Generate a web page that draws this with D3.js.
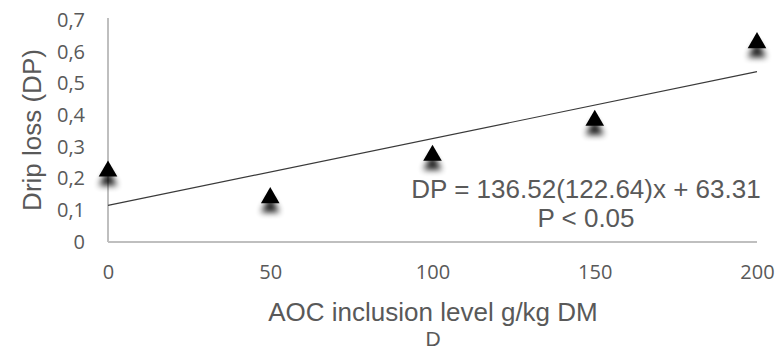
<!DOCTYPE html>
<html>
<head>
<meta charset="utf-8">
<script src="https://cdn.jsdelivr.net/npm/d3@7"></script>
<style>
  html, body { margin: 0; padding: 0; background: #fff; }
  svg { display: block; }
</style>
</head>
<body>
<svg id="chart" width="778" height="351"></svg>
<script>
// Inclusion levels (g/kg DM) and measured drip loss
const levels = [0, 50, 100, 150, 200];
const dripLoss = [0.22, 0.136, 0.27, 0.38, 0.625];
const xTicks = [0, 50, 100, 150, 200];
const yTicks = [0, 0.1, 0.2, 0.3, 0.4, 0.5, 0.6, 0.7];
const equationLines = ["DP = 136.52(122.64)x + 63.31", "P < 0.05"];

const svg = d3.select("#chart");
const plotLeft = 108, plotRight = 757, plotTop = 20, plotBottom = 242;
const textColor = "#595959";
const titleFont = "'Liberation Sans', Arial, sans-serif";

const x = d3.scaleLinear().domain([0, 200]).range([plotLeft, plotRight]);
const y = d3.scaleLinear().domain([0, 0.7]).range([plotBottom, plotTop]);

// soft shadow under each marker
const defs = svg.append("defs");
const f = defs.append("filter").attr("id", "shadow")
  .attr("x", "-60%").attr("y", "-60%").attr("width", "220%").attr("height", "260%");
f.append("feGaussianBlur").attr("in", "SourceAlpha").attr("stdDeviation", 3).attr("result", "b");
f.append("feOffset").attr("in", "b").attr("dx", 0).attr("dy", 9).attr("result", "o");
f.append("feComponentTransfer").attr("in", "o").attr("result", "s")
  .append("feFuncA").attr("type", "linear").attr("slope", 0.9);
const m = f.append("feMerge");
m.append("feMergeNode").attr("in", "s");
m.append("feMergeNode").attr("in", "SourceGraphic");

// axes
const gx = svg.append("g").attr("transform", `translate(0,${plotBottom})`)
  .call(d3.axisBottom(x).tickValues(xTicks).tickSize(0).tickPadding(23));
const gy = svg.append("g").attr("transform", `translate(${plotLeft},0)`)
  .call(d3.axisLeft(y).tickValues(yTicks).tickSize(0).tickPadding(23)
    .tickFormat(d => d3.format(".1~f")(d).replace(".", ",")));
[gx, gy].forEach(g => {
  g.select(".domain").attr("stroke", "#bfbfbf").attr("stroke-width", 2);
  g.selectAll("text").attr("fill", textColor)
    .style("font-family", "'Open Sans', sans-serif").style("font-size", "20px");
});
gy.select(".domain").attr("d", `M0,${y(0.7) - 2}V${plotBottom}`);
gx.select(".domain").attr("d", `M${plotLeft},0H${plotRight}`);

// linear trend line from least squares fit of the data
const mx = d3.mean(levels), my = d3.mean(dripLoss);
const slope = d3.sum(levels, (v, i) => (v - mx) * (dripLoss[i] - my)) / d3.sum(levels, v => (v - mx) ** 2);
const intercept = my - slope * mx;
svg.append("line")
  .attr("x1", x(0)).attr("y1", y(intercept))
  .attr("x2", x(200)).attr("y2", y(intercept + slope * 200))
  .attr("stroke", "#3a3a3a").attr("stroke-width", 1.2);

// triangle markers
const tri = d3.symbol().type(d3.symbolTriangle).size(150);
svg.append("g").selectAll("path").data(levels).join("path")
  .attr("d", tri)
  .attr("transform", (d, i) => `translate(${x(d)},${y(dripLoss[i]) - 1})`)
  .attr("fill", "#000")
  .attr("filter", "url(#shadow)");

// equation annotation
svg.append("g").selectAll("text").data(equationLines).join("text")
  .attr("x", 586).attr("y", (d, i) => 198 + i * 29)
  .attr("text-anchor", "middle")
  .attr("fill", textColor)
  .style("font-family", titleFont).style("font-size", "26px")
  .text(d => d);

// axis titles
svg.append("text")
  .attr("transform", `translate(41,130) rotate(-90)`)
  .attr("text-anchor", "middle").attr("fill", textColor)
  .style("font-family", titleFont).style("font-size", "26px")
  .text("Drip loss (DP)");
svg.append("text")
  .attr("x", 433).attr("y", 321).attr("text-anchor", "middle").attr("fill", textColor)
  .style("font-family", titleFont).style("font-size", "26px")
  .text("AOC inclusion level g/kg DM");
svg.append("text")
  .attr("x", 433).attr("y", 346).attr("text-anchor", "middle").attr("fill", textColor)
  .style("font-family", titleFont).style("font-size", "21px")
  .text("D");
</script>
</body>
</html>
